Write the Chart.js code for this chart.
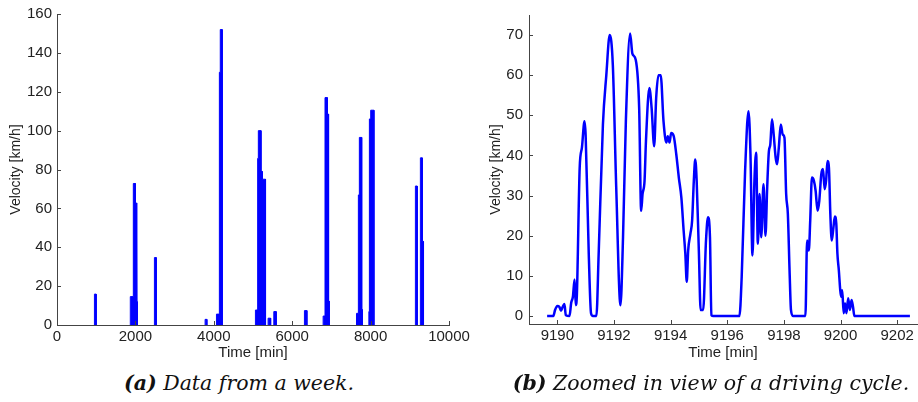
<!DOCTYPE html>
<html>
<head>
<meta charset="utf-8">
<script src="https://cdn.jsdelivr.net/npm/chart.js@4.4.0/dist/chart.umd.min.js"></script>
<style>
  body { margin: 0; background: #fff; width: 918px; height: 402px; overflow: hidden; position: relative; }
  canvas { position: absolute; top: 0; }
  #weekChart { left: 0; }
  #cycleChart { left: 460px; }
  .cap { position: absolute; top: 371px; font-family: "DejaVu Serif", serif; font-style: italic;
         font-size: 20.5px; white-space: nowrap; transform: translateX(-50%); color: #111; }
</style>
</head>
<body>
<canvas id="weekChart" width="480" height="362"></canvas>
<canvas id="cycleChart" width="458" height="362"></canvas>
<div class="cap" style="left:239px"><b>(a)</b> Data from a week.</div>
<div class="cap" style="left:711px"><b>(b)</b> Zoomed in view of a driving cycle.</div>
<script>
// week overview: each trip is drawn as its envelope, null = parked
var weekTime = [
  955, 955, 1000, 1000, null,
  1870, 1870, 1947, 1947, 2000, 2000, 2025, 2025, 2040, 2040, 2050, 2050, null,
  2485, 2485, 2532, 2532, null,
  3778, 3778, 3823, 3823, null,
  4068, 4068, 4142, 4142, 4165, 4165, 4215, 4215, null,
  5062, 5062, 5119, 5119, 5136, 5136, 5204, 5204, 5238, 5238, 5320, 5320, null,
  5385, 5385, 5450, 5450, null,
  5530, 5530, 5592, 5592, null,
  6312, 6312, 6375, 6375, null,
  6789, 6789, 6837, 6837, 6895, 6895, 6928, 6928, 6945, 6945, null,
  7640, 7640, 7688, 7688, 7713, 7713, 7773, 7773, 7788, 7788, null,
  7955, 7955, 7969, 7969, 8003, 8003, 8085, 8085, null,
  9143, 9143, 9190, 9190, null,
  9270, 9270, 9318, 9318, 9350, 9350
];
var weekSpeed = [
  0, 15.9, 15.9, 0, null,
  0, 14.6, 14.6, 72.8, 72.8, 62.8, 62.8, 35, 35, 12, 12, 0, null,
  0, 34.7, 34.7, 0, null,
  0, 2.9, 2.9, 0, null,
  0, 5.6, 5.6, 130, 130, 152, 152, 0, null,
  0, 7.7, 7.7, 85.7, 85.7, 100, 100, 79, 79, 75, 75, 0, null,
  0, 3.5, 3.5, 0, null,
  0, 6.9, 6.9, 0, null,
  0, 7.4, 7.4, 0, null,
  0, 4.6, 4.6, 117, 117, 108.5, 108.5, 12.3, 12.3, 0, null,
  0, 6, 6, 66.9, 66.9, 96.5, 96.5, 8, 8, 0, null,
  0, 6.9, 6.9, 106, 106, 110.5, 110.5, 0, null,
  0, 71.5, 71.5, 0, null,
  0, 86, 86, 43, 43, 0
];
var weekXTicks = [0, 2000, 4000, 6000, 8000, 10000];
var weekYTicks = [0, 20, 40, 60, 80, 100, 120, 140, 160];

// one driving cycle
var cycleTime = [
  9189.64, 9189.86, 9189.92, 9190.0, 9190.07, 9190.13, 9190.18, 9190.25, 9190.30, 9190.43,
  9190.49, 9190.55, 9190.61, 9190.65, 9190.69, 9190.79, 9190.87, 9190.96, 9191.0, 9191.11,
  9191.19, 9191.26, 9191.38, 9191.46, 9191.61, 9191.73, 9191.85, 9191.96, 9192.08, 9192.23,
  9192.32, 9192.42, 9192.57, 9192.65, 9192.77, 9192.89, 9192.96, 9193.01, 9193.08, 9193.13,
  9193.25, 9193.33, 9193.42, 9193.49, 9193.57, 9193.65, 9193.75, 9193.85, 9193.90, 9193.96,
  9194.02, 9194.11, 9194.20, 9194.29, 9194.38, 9194.46, 9194.52, 9194.57, 9194.62, 9194.70,
  9194.76, 9194.82, 9194.87, 9194.92, 9195.0, 9195.06, 9195.15, 9195.25, 9195.32, 9195.39,
  9195.44, 9195.51, 9196.43, 9196.51, 9196.63, 9196.75, 9196.82, 9196.89, 9196.96, 9197.02,
  9197.08, 9197.14, 9197.2, 9197.28, 9197.35, 9197.41, 9197.47, 9197.52, 9197.58, 9197.64,
  9197.71, 9197.76, 9197.82, 9197.89, 9197.96, 9198.02, 9198.08, 9198.14, 9198.2, 9198.25,
  9198.32, 9198.76, 9198.82, 9198.88, 9198.93, 9198.99, 9199.06, 9199.12, 9199.19, 9199.25,
  9199.32, 9199.38, 9199.44, 9199.49, 9199.54, 9199.59, 9199.64, 9199.69, 9199.75, 9199.8,
  9199.85, 9199.89, 9199.94, 9199.99, 9200.02, 9200.06, 9200.11, 9200.16, 9200.21, 9200.27,
  9200.33, 9200.39, 9200.44, 9200.49, 9202.45
];
var cycleSpeed = [
  0, 0, 1.5, 2.5, 2.3, 1.3, 2.1, 3.0, 0.2, 0,
  3.3, 4.8, 9.1, 2.7, 5.2, 37, 42, 48.5, 45, 15.5,
  0.7, 0, 0, 15.5, 47.7, 60, 70, 62.5, 32, 2.7,
  19.6, 48.5, 70.4, 65.4, 63.8, 51.8, 26.2, 30.4, 33.7, 43.6,
  56.8, 51.8, 42.3, 54.3, 60, 60, 48.5, 43.2, 44.8, 43.2,
  45.6, 44.8, 40.3, 34.5, 29.5, 21.3, 15.5, 8.5, 16.3, 20.5,
  23.8, 33.7, 39, 33.7, 15.5, 1.5, 1.5, 18.8, 24.6, 19.6,
  0.2, 0, 0, 9.7, 36.1, 51, 40.3, 15.1, 33.7, 40.7,
  18, 30.4, 19.6, 32.8, 20, 32, 41, 42.7, 49, 45.2,
  39.4, 37.8, 41.9, 47.7, 45.2, 44.4, 30.4, 25.4, 11.4, 1.5,
  0, 0, 18.8, 16.3, 23.8, 34.5, 33.7, 31.2, 26.2, 28.7,
  35.3, 36.6, 31.6, 33.7, 38.6, 37, 25.4, 18.8, 22.1, 24.8,
  23, 15.5, 11.4, 6.4, 4.8, 6.4, 0.7, 3.1, 0.7, 4.4,
  1.5, 4.0, 2.3, 0, 0
];
var cycleXTicks = [9190, 9192, 9194, 9196, 9198, 9200, 9202];
var cycleYTicks = [0, 10, 20, 30, 40, 50, 60, 70];

var axisColor = '#444';
var tickFont = { family: 'Liberation Sans', size: 15 };
var xTitleFont = { family: 'Liberation Sans', size: 15 };
var yTitleFont = { family: 'Liberation Sans', size: 14 };

// matlab style tick marks pointing into the plot
var innerTicks = {
  id: 'innerTicks',
  afterDraw: function(chart) {
    var ctx = chart.ctx, a = chart.chartArea;
    var xs = chart.scales.x, ys = chart.scales.y;
    ctx.save();
    ctx.strokeStyle = axisColor;
    ctx.lineWidth = 1;
    ctx.beginPath();
    xs.ticks.forEach(function(t) {
      var px = Math.round(xs.getPixelForValue(t.value)) + 0.5;
      ctx.moveTo(px, a.bottom);
      ctx.lineTo(px, a.bottom - 4);
    });
    ys.ticks.forEach(function(t) {
      var py = Math.round(ys.getPixelForValue(t.value)) + 0.5;
      ctx.moveTo(a.left, py);
      ctx.lineTo(a.left + 4, py);
    });
    ctx.stroke();
    ctx.restore();
  }
};

function toPoints(xs, ys) {
  var pts = [];
  for (var i = 0; i < xs.length; i++) {
    pts.push(xs[i] === null ? { x: null, y: null } : { x: xs[i], y: ys[i] });
  }
  return pts;
}

function plain(v) { return String(v); }

function axisX(min, max, ticks, h) {
  return {
    type: 'linear', min: min, max: max,
    afterBuildTicks: function(axis) { axis.ticks = ticks.map(function(v) { return { value: v }; }); },
    afterFit: function(axis) { axis.height = h; },
    grid: { display: false, drawTicks: false },
    border: { display: true, color: axisColor, width: 1 },
    ticks: { font: tickFont, color: '#222', padding: 3, maxRotation: 0, autoSkip: false, callback: plain },
    title: { display: true, text: 'Time [min]', font: xTitleFont, color: '#222', padding: { top: 0, bottom: 0 } }
  };
}

function axisY(min, max, ticks, w, tpad, lpad) {
  return {
    min: min, max: max,
    afterBuildTicks: function(axis) { axis.ticks = ticks.map(function(v) { return { value: v }; }); },
    afterFit: function(axis) { axis.width = w; },
    grid: { display: false, drawTicks: false },
    border: { display: true, color: axisColor, width: 1 },
    ticks: { font: tickFont, color: '#222', padding: lpad, callback: plain },
    title: { display: true, text: 'Velocity [km/h]', font: yTitleFont, color: '#222', padding: { top: tpad, bottom: 0 } }
  };
}

new Chart(document.getElementById('weekChart'), {
  type: 'line',
  data: {
    datasets: [{
      data: toPoints(weekTime, weekSpeed),
      borderColor: '#0000ff',
      backgroundColor: '#0000ff',
      borderWidth: 1,
      fill: 'origin',
      pointRadius: 0,
      tension: 0,
      spanGaps: false
    }]
  },
  options: {
    responsive: false, animation: false, devicePixelRatio: 1,
    layout: { padding: { left: 0, top: 14, right: 31, bottom: 0 } },
    plugins: { legend: { display: false }, tooltip: { enabled: false } },
    scales: {
      x: axisX(0, 10000, weekXTicks, 37),
      y: axisY(0, 160, weekYTicks, 57, 7.6, 5)
    }
  },
  plugins: [innerTicks]
});

new Chart(document.getElementById('cycleChart'), {
  type: 'line',
  data: {
    datasets: [{
      data: toPoints(cycleTime, cycleSpeed),
      borderColor: '#0000ff',
      borderWidth: 2.5,
      fill: false,
      pointRadius: 0,
      cubicInterpolationMode: 'monotone'
    }]
  },
  options: {
    responsive: false, animation: false, devicePixelRatio: 1,
    layout: { padding: { left: 0, top: 14, right: 1, bottom: 0 } },
    plugins: { legend: { display: false }, tooltip: { enabled: false } },
    scales: {
      x: axisX(9189, 9202.7, cycleXTicks, 38),
      y: axisY(-2, 75, cycleYTicks, 69, 28, 6)
    }
  },
  plugins: [innerTicks]
});
</script>
</body>
</html>
